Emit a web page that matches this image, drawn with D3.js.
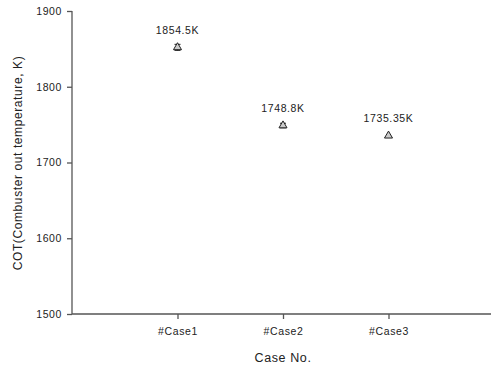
<!DOCTYPE html>
<html><head><meta charset="utf-8">
<script src="https://cdn.jsdelivr.net/npm/d3@7"></script>
<style>body{margin:0;background:#fff}svg{display:block}text{font-family:"Liberation Sans",Arial,sans-serif}</style>
</head><body>
<svg id="c" width="491" height="366"></svg>
<script>
const categories = ["#Case1", "#Case2", "#Case3"];
const values = [1852, 1748.8, 1735.35];
const labels = ["1854.5K", "1748.8K", "1735.35K"];
const errors = [4, 3, 0];
const yTicks = [1500, 1600, 1700, 1800, 1900];

const svg = d3.select("#c");
const x = d3.scaleLinear().domain([0, 4]).range([72, 494]);
const y = d3.scaleLinear().domain([1500, 1900]).range([314, 11]);
const axisColor = "#555";

const yAxis = svg.append("g").attr("transform", "translate(72,0)")
  .call(d3.axisLeft(y).tickValues(yTicks).tickSize(5).tickPadding(5).tickFormat(d3.format("d")));
const xAxis = svg.append("g").attr("transform", "translate(0,314)")
  .call(d3.axisBottom(x).tickValues([1, 2, 3]).tickSize(5).tickPadding(9).tickFormat(d => categories[d - 1]));
[yAxis, xAxis].forEach(g => {
  g.selectAll("path,line").attr("stroke", axisColor).attr("stroke-width", 1.3);
  g.selectAll("text").attr("fill", "#222").attr("font-size", 10.5).attr("letter-spacing", 0.6);
});
yAxis.select(".domain").attr("d", "M0,11V314");
xAxis.select(".domain").attr("d", "M72,0H494");

svg.append("text").attr("transform", "translate(22,163) rotate(-90)")
  .attr("text-anchor", "middle").attr("font-size", 12).attr("letter-spacing", 0.6).attr("fill", "#222")
  .text("COT(Combuster out temperature, K)");
svg.append("text").attr("x", 283).attr("y", 362).attr("text-anchor", "middle")
  .attr("font-size", 12.5).attr("letter-spacing", 0.6).attr("fill", "#222").text("Case No.");

const pts = svg.append("g");
values.forEach((v, i) => {
  const cx = x(i + 1), cy = y(v);
  const e = errors[i];
  if (e > 0) {
    const t = y(v + e), b = y(v - e);
    pts.append("path").attr("d", `M${cx},${t}V${b}M${cx-3},${t}H${cx+3}M${cx-3},${b}H${cx+3}`)
      .attr("stroke", "#222").attr("stroke-width", 1).attr("fill", "none");
  }
  pts.append("path").attr("d", d3.symbol(d3.symbolTriangle, 28)())
    .attr("transform", `translate(${cx},${cy})`)
    .attr("fill", "#ccc").attr("stroke", "#222").attr("stroke-width", 1);
  svg.append("text").attr("x", cx).attr("y", cy - 13.5).attr("text-anchor", "middle")
    .attr("font-size", 10.5).attr("letter-spacing", 0.6).attr("fill", "#222").text(labels[i]);
});
</script>
</body></html>
